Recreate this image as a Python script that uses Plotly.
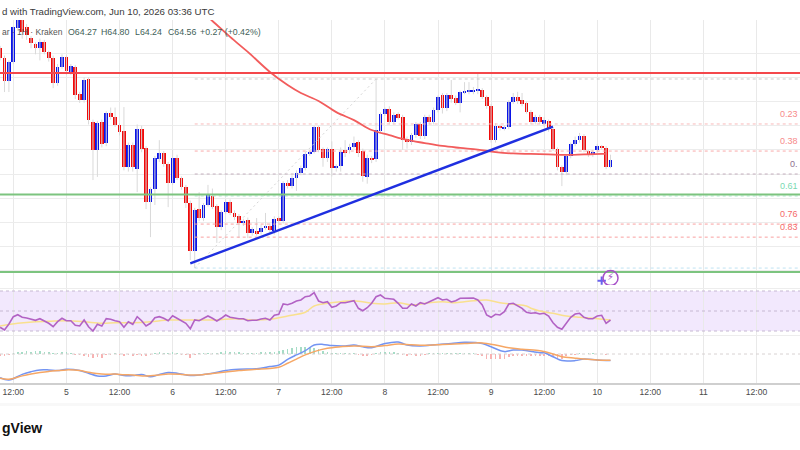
import pandas as pd
import plotly.graph_objects as go

# Hourly candles, Jun 4 09:00 through Jun 10 03:00 UTC
start = "2026-06-04 09:00"
opens = [69.21,68.80,67.85,68.63,70.04,70.37,70.08,69.63,69.38,69.21,69.46,69.05,68.80,67.77,68.43,68.84,68.22,68.43,67.31,67.06,
 67.93,66.15,64.99,66.15,65.28,66.52,66.36,66.03,65.78,64.29,65.20,64.21,65.86,65.08,62.84,63.38,64.62,64.87,64.41,63.63,
 64.66,63.83,63.46,62.80,60.81,62.55,62.18,62.72,63.09,62.68,61.81,62.43,62.84,62.39,62.26,61.97,62.10,61.56,61.64,61.60,
 61.77,61.85,61.64,62.18,62.06,63.63,63.50,63.83,64.04,64.25,64.83,64.91,65.94,65.03,64.66,65.03,64.25,64.33,64.99,64.99,
 65.12,65.32,64.95,63.88,64.66,64.62,65.78,66.48,66.69,66.15,66.48,66.36,65.45,65.32,65.61,66.07,65.57,66.36,66.15,66.65,
 67.27,66.73,67.27,67.14,66.94,67.39,67.41,67.43,67.46,67.48,67.19,66.81,65.41,65.99,65.90,65.94,66.98,67.19,67.06,66.94,
 66.57,66.15,66.36,66.07,66.19,65.86,65.03,64.29,64.08,64.74,65.24,65.41,65.57,64.95,64.83,64.99,65.12,65.08,64.27]
closes = [68.80,67.85,68.63,70.08,70.37,69.87,69.75,69.42,69.21,69.46,69.05,68.80,67.77,68.43,68.84,68.26,68.47,67.27,67.06,67.89,
 66.23,64.99,66.11,65.24,66.52,66.36,66.03,65.74,64.29,65.20,64.29,65.86,65.03,62.84,63.38,64.66,64.87,64.41,63.63,64.66,
 63.83,63.46,62.80,60.81,62.51,62.18,62.72,63.13,62.63,61.81,62.43,62.84,62.39,62.22,61.97,62.06,61.56,61.72,61.56,61.77,
 61.85,61.68,62.14,62.06,63.63,63.50,63.83,64.04,64.25,64.83,64.87,65.94,64.99,64.66,65.03,64.25,64.33,64.91,64.91,65.12,
 65.28,64.87,63.92,64.66,64.58,65.82,66.48,66.69,66.15,66.44,66.32,65.41,65.32,65.61,66.07,65.57,66.36,66.15,66.65,67.19,
 66.73,67.27,67.10,66.94,67.39,67.43,67.45,67.46,67.50,67.19,66.81,65.41,65.99,65.90,65.94,66.98,67.19,67.02,66.90,66.57,
 66.15,66.36,66.15,66.23,65.86,65.03,64.29,64.08,64.74,65.24,65.41,65.57,64.99,64.83,64.87,65.16,65.08,64.29,64.56]
highs = [69.30,68.90,68.70,70.10,70.50,70.50,70.20,69.70,69.45,69.60,69.55,69.10,68.90,68.55,68.95,68.90,68.55,68.50,67.40,68.00,
 68.00,66.25,66.20,66.25,66.60,66.75,66.75,66.10,66.77,65.30,65.30,66.05,66.00,65.15,63.45,64.75,65.40,64.95,64.50,65.00,
 64.80,63.90,63.55,62.90,62.60,63.25,62.80,63.55,63.40,62.75,62.50,62.95,62.95,62.50,62.35,62.15,62.20,61.80,62.18,61.90,
 62.39,61.95,62.25,62.25,63.70,63.75,63.95,64.15,64.35,64.90,64.95,66.00,66.00,65.10,65.10,65.35,64.40,65.10,65.40,65.25,
 65.55,65.40,65.05,64.80,64.75,67.93,66.55,66.75,66.80,66.55,66.55,66.45,65.55,65.70,66.15,66.15,66.45,66.45,66.75,67.25,
 67.35,67.35,67.89,67.25,67.45,67.80,67.80,67.60,68.18,67.55,67.25,66.90,66.10,66.05,66.00,67.05,67.35,67.40,67.35,67.00,
 66.65,66.45,66.45,66.35,66.25,65.90,65.10,64.35,64.80,65.30,65.55,65.70,65.65,65.00,65.00,65.25,65.20,65.15,64.80]
lows = [68.70,67.39,67.39,68.55,69.95,69.60,69.55,69.20,68.95,68.70,68.95,68.65,67.55,67.65,68.35,68.10,68.10,67.10,66.94,66.95,
 66.05,63.75,63.88,65.10,65.15,66.25,65.95,65.60,64.15,64.10,64.10,63.25,64.90,62.55,61.39,62.72,64.50,64.30,62.63,63.55,
 63.75,63.35,62.60,60.44,60.11,62.05,62.05,62.65,62.55,61.15,61.68,62.35,62.30,62.10,61.35,61.85,61.35,61.45,61.45,61.50,
 61.70,61.55,61.50,61.95,61.95,63.40,63.40,63.30,63.95,64.15,64.75,64.85,64.90,64.30,64.50,63.90,64.10,64.10,64.70,64.85,
 65.05,64.70,63.68,63.60,64.45,64.50,65.70,66.40,66.05,66.05,66.25,65.00,65.05,65.20,65.50,65.45,65.45,66.05,66.05,66.55,
 66.50,66.60,66.95,66.85,66.55,67.30,67.30,67.30,67.30,67.10,66.70,65.30,65.30,65.80,65.80,65.85,66.90,66.90,66.80,66.50,
 66.05,66.05,66.05,65.95,65.75,64.95,64.15,63.50,63.95,64.65,65.15,65.30,64.90,64.70,64.70,64.85,65.00,64.20,64.24]

# Moving average over price, sampled at the listed candle numbers
ma_idx = [44,48,52,56,61,65,68,72,76,80,84,88,92,96,100,104,108,112,116,120,124,128,132,136,137]
ma_val = [70.95,70.33,69.67,69.05,68.22,67.68,67.35,67.02,66.56,66.23,65.82,65.61,65.41,65.28,65.16,65.08,65.01,64.91,64.85,64.83,64.81,64.79,64.81,64.83,64.83]

# Drawn levels
resistance_level = 68.18
support_levels = [63.15, 59.95]
trend_idx = [43, 125]
trend_val = [60.30, 65.96]
fib_names = ["", "0.23", "0.38", "0.", "0.61", "0.76", "0.83", ""]
fib_val = [67.93, 66.07, 64.95, 64.00, 63.09, 61.93, 61.39, 60.11]
fib_diag_idx = [44, 85]

rsi = [33.7,31,37,44.3,46.3,43.7,43,41.7,40.7,42.3,40.3,37.7,34.3,39.3,42.7,40.3,40.3,35.7,35,41,
 34.3,30,36.7,35,42.3,41.7,40.3,39.3,33.7,39.3,36.7,44.3,40.3,35,37.7,43.3,44.3,42.7,40.3,45.3,
 42.7,40.3,37.7,32.3,41,40.3,42.7,45,42.7,40,42.7,46,43.7,42.7,42.3,42.3,40.3,40.7,40.7,42,42.7,41,
 45.7,46.7,57,56.3,57.7,60,61,64.3,65,68.3,60,58.3,59.3,53.7,55,58.3,58.3,59.3,60.3,52.7,50.3,53.3,
 57.7,64.3,66,62.7,62,61.7,57.7,52.7,52.7,57,55,58.3,57,59,61.7,63.3,61,61.7,59,60.3,62.7,62.7,62.7,
 63,61,56,46,43.7,46.7,46,49.3,57,57.7,55,52.7,48.7,
 47.7,48.3,47,47.7,45,38.3,33.7,31.7,37.7,43.7,47,47.7,43.7,42.3,42.3,45,45.7,37.7,41]
rsi_ma_idx = [0,4,8,11,15,19,23,26,30,34,38,41,45,49,53,57,61,65,69,71,74,77,80,84,87,90,93,97,100,103,107,110,113,116,119,120,122,125,128,131,134,138]
rsi_ma = [35,37.7,39.3,39.7,40.3,39.3,37.7,38.3,38.3,39.3,41,41,41,41,42.3,41,41.7,45,48.7,55,57.7,59.3,60.3,57.7,57,58.3,56,58.3,59.3,58.3,60.3,61,58.3,56.7,55,52.7,50,47.7,45,43.7,42.7,41]

macd_idx = [0,2,5,7,9,11,13,15,18,20,22,24,26,28,30,32,34,36,38,40,43,45,48,51,54,58,61,63,65,67,69,71,73,75,78,80,82,84,87,90,92,95,99,102,105,109,111,114,116,118,122,123,125,127,130,132,135,138]
macd = [-0.79,-0.87,-0.68,-0.59,-0.53,-0.53,-0.55,-0.51,-0.55,-0.64,-0.73,-0.73,-0.67,-0.72,-0.72,-0.68,-0.76,-0.68,-0.62,-0.64,-0.72,-0.70,-0.64,-0.55,-0.51,-0.49,-0.42,-0.37,-0.18,-0.03,0.11,0.30,0.32,0.28,0.27,0.30,0.24,0.21,0.35,0.40,0.30,0.27,0.32,0.35,0.39,0.35,0.24,0.08,0.13,0.13,0.04,0.04,-0.09,-0.22,-0.22,-0.17,-0.20,-0.22]
signal_idx = [0,2,5,7,9,11,15,18,20,23,26,28,30,33,36,38,41,43,45,48,51,54,58,61,63,65,67,69,71,74,77,80,84,87,90,93,97,100,105,109,112,115,118,122,123,125,127,130,132,135,138]
signal = [-0.81,-0.84,-0.73,-0.67,-0.62,-0.58,-0.53,-0.55,-0.61,-0.67,-0.67,-0.69,-0.70,-0.73,-0.70,-0.67,-0.68,-0.70,-0.70,-0.65,-0.60,-0.55,-0.51,-0.48,-0.44,-0.31,-0.17,-0.03,0.08,0.19,0.24,0.27,0.24,0.28,0.33,0.31,0.29,0.32,0.35,0.37,0.30,0.21,0.16,0.11,0.08,0.0,-0.09,-0.14,-0.17,-0.20,-0.21]
hist = [-.04,-.05,-.03,.03,.06,.08,.09,.07,.10,.09,.07,.04,.02,.02,.07,.06,.01,-.01,-.02,-.04,
 -.10,-.12,-.11,-.12,-.02,-.01,.01,-.03,-.06,-.02,-.05,-.03,-.06,-.07,-.03,.02,.05,.01,.01,.05,
 .01,-.01,-.03,-.12,-.02,.01,.01,.02,.01,.01,.06,.09,.05,.06,.05,.02,.02,.02,.03,.05,
 .06,.06,.08,.10,.15,.18,.20,.22,.24,.24,.22,.19,.16,.10,.06,.03,.02,.02,.01,.02,
 .01,-.03,-.06,-.05,-.02,.03,.07,.07,.06,.05,.02,-.02,-.04,-.02,-.05,-.06,-.02,.01,.02,.03,
 .02,.02,.03,.02,.03,.02,.02,.01,-.01,-.06,-.15,-.18,-.17,-.16,-.17,-.10,-.07,-.06,-.05,-.06,
 -.07,-.08,-.07,-.05,-.07,-.10,-.16,-.17,-.08,-.03,-.01,.01,.0,.01,.01,.0,.0,-.01,.0]

tick_times = ["2026-06-04 12:00","2026-06-05","2026-06-05 12:00","2026-06-06","2026-06-06 12:00","2026-06-07","2026-06-07 12:00",
 "2026-06-08","2026-06-08 12:00","2026-06-09","2026-06-09 12:00","2026-06-10","2026-06-10 12:00","2026-06-11","2026-06-11 12:00"]
tick_labels = ["12:00","5","12:00","6","12:00","7","12:00","8","12:00","9","12:00","10","12:00","11","12:00"]
price_grid = [60,61,62,63,64,65,66,67,68,69]

legend_values = ["O64.27","H64.80","L64.24","C64.56","+0.27 (+0.42%)"]

times = pd.date_range(start, periods=len(opens), freq="h")
x_end = "2026-06-11 21:50"
x_start = "2026-06-04 08:59"

UP, DOWN = "#0a14e6", "#f00a0a"
FONT = "Liberation Sans"
fig = go.Figure()

def at(idx):
    return [times[i] for i in idx]

# Wicks go first so the bodies sit on top of them
wx, wy = [], []
for t, h, l in zip(times, highs, lows):
    wx += [t, t, None]
    wy += [l, h, None]
fig.add_trace(go.Scatter(x=wx, y=wy, mode="lines", line=dict(color="#d9d9d9", width=1), yaxis="y"))

fig.add_trace(go.Bar(
    x=times,
    y=[abs(c - o) for o, c in zip(opens, closes)],
    base=[min(o, c) for o, c in zip(opens, closes)],
    width=3.1e6,
    marker=dict(color=[UP if c >= o else DOWN for o, c in zip(opens, closes)], line_width=0),
    yaxis="y",
))

# Fibonacci retracement levels
fib_colors = ["#c9c9c9","#f9b9b9","#f9a9a9","#c4aebd","#b5e8d2","#f9a0a0","#f9a0a0","#bfe2f2"]
for lvl, col in zip(fib_val, fib_colors):
    fig.add_trace(go.Scatter(x=[times[fib_diag_idx[0]], x_end], y=[lvl, lvl], mode="lines",
                             line=dict(color=col, width=1, dash="3px 3px"), yaxis="y"))
fig.add_trace(go.Scatter(x=at(fib_diag_idx), y=[fib_val[-1], fib_val[0]], mode="lines",
                         line=dict(color="#d4d4d4", width=1, dash="2px 3px"), yaxis="y"))

fig.add_trace(go.Scatter(x=at(ma_idx), y=ma_val, mode="lines", line=dict(color="#f25c5c", width=1.8, shape="spline"), yaxis="y"))
fig.add_trace(go.Scatter(x=[x_start, x_end], y=[resistance_level]*2, mode="lines", line=dict(color="#f4474b", width=2), yaxis="y"))
for lvl in support_levels:
    fig.add_trace(go.Scatter(x=[x_start, x_end], y=[lvl, lvl], mode="lines", line=dict(color="#7cc47f", width=2), yaxis="y"))
fig.add_trace(go.Scatter(x=at(trend_idx), y=trend_val, mode="lines", line=dict(color="#1f2fe0", width=2.4), yaxis="y"))

# Alert marker near the last candle
fig.add_trace(go.Scatter(x=[times[136]], y=[59.59], mode="markers",
                         marker=dict(symbol="cross-thin", size=6, color="#6a62ee", line=dict(color="#6a62ee", width=2)), yaxis="y"))
fig.add_trace(go.Scatter(x=[times[138]], y=[59.70], mode="markers+text", text=["⚡"], textposition="middle center",
                         textfont=dict(size=10, color="#a64fc8", family="DejaVu Sans"),
                         marker=dict(symbol="circle-open", size=15, color="#a64fc8", line=dict(color="#a64fc8", width=1.5)), yaxis="y"))

# RSI pane
for lvl in [30, 50, 70]:
    fig.add_trace(go.Scatter(x=[x_start, x_end], y=[lvl, lvl], mode="lines",
                             line=dict(color="#c6b8d2", width=1, dash="3px 3px"), yaxis="y2"))
fig.add_trace(go.Scatter(x=at(rsi_ma_idx), y=rsi_ma, mode="lines", line=dict(color="#f9e08e", width=1.5, shape="spline"), yaxis="y2"))
fig.add_trace(go.Scatter(x=times, y=rsi, mode="lines", line=dict(color="#b262c4", width=1.6), yaxis="y2"))

# MACD pane
fig.add_trace(go.Scatter(x=[x_start, x_end], y=[0, 0], mode="lines",
                         line=dict(color="#d8d2d2", width=1, dash="3px 3px"), yaxis="y3"))
fig.add_trace(go.Bar(x=times, y=hist, width=5e5,
                     marker=dict(color=["#a6dcc6" if v >= 0 else "#f8b2b2" for v in hist], line_width=0), yaxis="y3"))
fig.add_trace(go.Scatter(x=at(macd_idx), y=macd, mode="lines", line=dict(color="#7394f2", width=1.5, shape="spline"), yaxis="y3"))
fig.add_trace(go.Scatter(x=at(signal_idx), y=signal, mode="lines", line=dict(color="#f6a765", width=1.5, shape="spline"), yaxis="y3"))

notes = [
    dict(text="d with TradingView.com, Jun 10, 2026 03:36 UTC", x=0, y=1 - 11/450, font=dict(size=9.7, color="#3a3a3a")),
    dict(text="ar · 1H · Kraken", x=0, y=1 - 32/450, font=dict(size=8.5, color="#555555")),
    dict(text="gView", x=0, y=1 - 428/450, font=dict(size=14, color="#111111", family="Liberation Sans", weight="bold")),
]
for txt, px in zip(legend_values, [66, 99, 133, 166, 198]):
    notes.append(dict(text=txt, x=px/800, y=1 - 32/450, font=dict(size=8.8, color="#3f5f58")))
annotations = [dict(xref="paper", yref="paper", xanchor="left", yanchor="middle", showarrow=False, **n) for n in notes]

fib_label_colors = ["#000","#f78a8a","#f78a8a","#8e6f8e","#7ad9b2","#f56a6a","#f56a6a","#000"]
for name, lvl, col in zip(fib_names, fib_val, fib_label_colors):
    if name:
        annotations.append(dict(xref="paper", yref="y", x=1, y=lvl, xanchor="right", yanchor="bottom", yshift=3,
                                showarrow=False, text=name, font=dict(size=9, color=col)))

fig.update_layout(
    width=800, height=450, margin=dict(l=0, r=0, t=0, b=0),
    paper_bgcolor="white", plot_bgcolor="white", showlegend=False, barmode="overlay", bargap=0,
    font=dict(family=FONT),
    annotations=annotations,
    xaxis=dict(range=[x_start, x_end], type="date", anchor="y3", tickmode="array", tickvals=tick_times, ticktext=tick_labels,
               tickfont=dict(size=8.6, color="#4a4a4a"), ticklen=5, tickcolor="white", showgrid=True, gridcolor="#e9e9e9", gridwidth=1,
               showline=True, linecolor="#cfcfcf", linewidth=2, zeroline=False),
    yaxis=dict(domain=[165/450, 430/450], range=[59.41, 70.37], tickmode="array", tickvals=price_grid, showticklabels=False,
               gridcolor="#ececec", zeroline=False, anchor="x"),
    yaxis2=dict(domain=[111/450, 165/450], range=[22, 76], tickmode="array", tickvals=[26, 73], showticklabels=False,
                gridcolor="#ededed", zeroline=False, anchor="x"),
    yaxis3=dict(domain=[67/450, 111/450], range=[-0.967, 0.5], tickmode="array", tickvals=[0.47], showticklabels=False,
                gridcolor="#ededed", zeroline=False, anchor="x"),
    shapes=[
        dict(type="rect", xref="paper", yref="y2", x0=0, x1=1, y0=30, y1=70, fillcolor="rgba(165,95,240,0.14)", line_width=0, layer="below"),
        dict(type="rect", xref="paper", yref="paper", x0=0, x1=1, y0=1 - 406/450, y1=1 - 403/450, fillcolor="#f8f8f8", line_width=0, layer="below"),
    ],
)
fig.write_html("out.html")
